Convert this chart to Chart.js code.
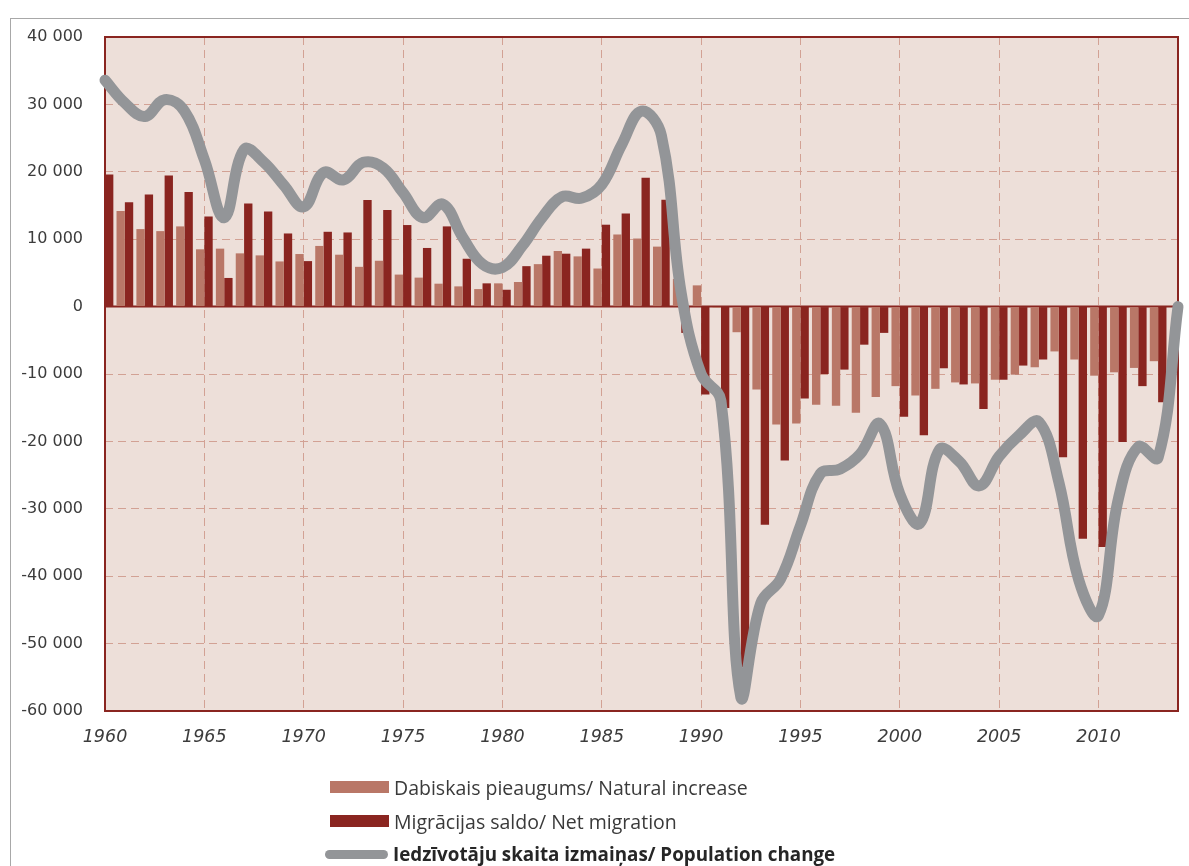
<!DOCTYPE html>
<html>
<head>
<meta charset="utf-8">
<script src="https://cdn.jsdelivr.net/npm/chart.js@4.4.1/dist/chart.umd.min.js"></script>
<style>
  html, body { margin: 0; padding: 0; background: #ffffff; }
  #wrap { position: relative; width: 1189px; height: 866px; overflow: hidden; background: #ffffff; }
  #chart { position: absolute; left: 0; top: 0; }
  .frame-l { position: absolute; left: 10px; top: 18px; width: 1px; height: 848px; background: #a8a8a8; }
  .frame-t { position: absolute; left: 10px; top: 18px; width: 1179px; height: 1px; background: #a8a8a8; }
  .lg-row { position: absolute; left: 0; height: 30px; display: flex; align-items: center; white-space: nowrap;
            font-family: 'Open Sans', 'Liberation Sans', sans-serif; font-size: 19.5px; color: #3a3a3a; }
  .lg-box { display: inline-block; width: 59px; height: 12px; margin-right: 5px; }
  .lg-line { display: inline-block; width: 63px; height: 9px; border-radius: 5px; background: #939598; margin-right: 5px; }
</style>
</head>
<body>
<div id="wrap">
  <canvas id="chart" width="1189" height="866"></canvas>
  <div class="frame-l"></div>
  <div class="frame-t"></div>
  <div id="legend"></div>
</div>
<script>
// ---- Data ----
const years = ['1960','1961','1962','1963','1964','1965','1966','1967','1968','1969',
               '1970','1971','1972','1973','1974','1975','1976','1977','1978','1979',
               '1980','1981','1982','1983','1984','1985','1986','1987','1988','1989',
               '1990','1991','1992','1993','1994','1995','1996','1997','1998','1999',
               '2000','2001','2002','2003','2004','2005','2006','2007','2008','2009',
               '2010','2011','2012','2013','2014'];

const naturalIncrease = [14000, 14200, 11500, 11200, 11900, 8500, 8600, 7900, 7600, 6700,
                         7800, 9000, 7700, 5900, 6800, 4750, 4300, 3400, 3000, 2600,
                         3450, 3650, 6300, 8250, 7450, 5650, 10700, 10100, 8900, 4100,
                         3150, -200, -3800, -12300, -17500, -17350, -14550, -14700, -15750, -13400,
                         -11800, -13200, -12200, -11250, -11400, -10850, -10100, -9000, -6650, -7850,
                         -10250, -9750, -9100, -8100, null];

const netMigration = [19600, 15500, 16650, 19450, 17000, 13350, 4250, 15300, 14100, 10850,
                      6750, 11100, 11000, 15800, 14350, 12100, 8700, 11900, 7100, 3450,
                      2500, 6000, 7550, 7850, 8600, 12150, 13800, 19100, 15850, -3900,
                      -13050, -15050, -53500, -32350, -22850, -13650, -10000, -9350, -5650, -3900,
                      -16350, -19100, -9150, -11550, -15200, -10850, -8750, -7850, -22350, -34450,
                      -35650, -20100, -11800, -14200, null];

const populationChange = [33600, 30200, 28200, 30700, 29000, 21800, 13200, 23300, 21400, 18000,
                          14800, 19900, 18800, 21400, 20600, 16900, 13200, 15200, 10300, 6300,
                          5800, 9000, 13200, 16300, 16100, 18100, 24000, 29000, 25400, 2000,
                          -10000, -14000, -58000, -44000, -40400, -32500, -24800, -24100, -21900, -17400,
                          -27800, -32200, -21200, -23000, -26600, -22200, -19100, -17100, -26000, -40500,
                          -45800, -28500, -20800, -22400, 0];

const yTicks = [40000, 30000, 20000, 10000, 0, -10000, -20000, -30000, -40000, -50000, -60000];

const seriesNames = ['Dabiskais pieaugums/ Natural increase',
                     'Migrācijas saldo/ Net migration',
                     'Iedzīvotāju skaita izmaiņas/ Population change'];

// ---- Styles ----
const C_LIGHT = '#b97767';
const C_DARK = '#8a2520';
const C_LINE = '#939598';
const C_PLOT = '#eddfd9';
const C_GRID = '#d2a194';
const C_TEXT = '#3c3c3c';

function fmt(v) {
  const s = String(Math.abs(v)).replace(/\B(?=(\d{3})+(?!\d))/g, ' ');
  return (v < 0 ? '-' : '') + s;
}

const plotDecor = {
  id: 'plotDecor',
  beforeDraw(chart) {
    const { ctx, chartArea: a } = chart;
    ctx.save();
    ctx.fillStyle = C_PLOT;
    ctx.fillRect(a.left, a.top, a.right - a.left, a.bottom - a.top);
    ctx.restore();
  },
  beforeDatasetsDraw(chart) {
    const { ctx, chartArea: a, scales } = chart;
    const y0 = scales.y.getPixelForValue(0);
    ctx.save();
    ctx.strokeStyle = C_DARK;
    ctx.lineWidth = 2;
    ctx.beginPath();
    ctx.moveTo(a.left, y0);
    ctx.lineTo(a.right, y0);
    ctx.stroke();
    ctx.strokeRect(a.left, a.top, a.right - a.left, a.bottom - a.top);
    ctx.restore();
  }
};

new Chart(document.getElementById('chart'), {
  type: 'bar',
  data: {
    labels: years,
    datasets: [
      { type: 'line', label: seriesNames[2], data: populationChange, borderColor: C_LINE,
        backgroundColor: C_LINE, borderWidth: 11, tension: 0.4, pointRadius: 0, pointHoverRadius: 0,
        fill: false, order: 0, clip: 12, borderCapStyle: 'round', borderJoinStyle: 'round' },
      { label: seriesNames[0], data: naturalIncrease, backgroundColor: C_LIGHT, borderWidth: 0,
        order: 1, categoryPercentage: 0.84, barPercentage: 1.0 },
      { label: seriesNames[1], data: netMigration, backgroundColor: C_DARK, borderWidth: 0,
        order: 1, categoryPercentage: 0.84, barPercentage: 1.0 }
    ]
  },
  options: {
    responsive: false,
    animation: false,
    devicePixelRatio: 1,
    layout: { padding: { left: 0, right: 11, top: 37, bottom: 105 } },
    plugins: { legend: { display: false }, tooltip: { enabled: false } },
    scales: {
      x: {
        type: 'category',
        offset: false,
        grid: {
          offset: false,
          drawTicks: false,
          lineWidth: 1,
          color: (ctx) => (ctx.index > 0 && Number(years[ctx.index]) % 5 === 0) ? C_GRID : 'rgba(0,0,0,0)'
        },
        border: { display: false, dash: [8, 5] },
        ticks: {
          autoSkip: false, maxRotation: 0, minRotation: 0, padding: 16,
          font: { family: 'DejaVu Sans', size: 17.5, style: 'italic' }, color: C_TEXT,
          callback: (v, i) => (Number(years[i]) % 5 === 0 && Number(years[i]) <= 2010) ? years[i] : ''
        },
        afterFit: (s) => { s.height = 50; s.paddingLeft = 0; s.paddingRight = 0; }
      },
      y: {
        min: yTicks[yTicks.length - 1],
        max: yTicks[0],
        afterBuildTicks: (s) => { s.ticks = yTicks.map(v => ({ value: v })); },
        grid: {
          drawTicks: false,
          lineWidth: 1,
          color: (ctx) => (ctx.tick && (ctx.tick.value === 0 || ctx.tick.value === yTicks[0] || ctx.tick.value === yTicks[yTicks.length - 1])) ? 'rgba(0,0,0,0)' : C_GRID
        },
        border: { display: false, dash: [8, 5] },
        ticks: {
          padding: 22,
          font: { family: 'DejaVu Sans', size: 16 }, color: C_TEXT,
          callback: (v) => fmt(v)
        },
        afterFit: (s) => { s.width = 105; s.paddingTop = 0; s.paddingBottom = 0; }
      }
    }
  },
  plugins: [plotDecor]
});

// ---- HTML legend (vertical, as in the reference) ----
const lg = document.getElementById('legend');
const rows = [
  { top: 772, kind: 'box', color: C_LIGHT, text: seriesNames[0], bold: false, left: 330 },
  { top: 806, kind: 'box', color: C_DARK, text: seriesNames[1], bold: false, left: 330 },
  { top: 839, kind: 'line', color: C_LINE, text: seriesNames[2], bold: true, left: 325 }
];
rows.forEach(r => {
  const row = document.createElement('div');
  row.className = 'lg-row';
  row.style.top = r.top + 'px';
  row.style.left = r.left + 'px';
  const sw = document.createElement('span');
  sw.className = r.kind === 'box' ? 'lg-box' : 'lg-line';
  sw.style.background = r.color;
  const tx = document.createElement('span');
  tx.textContent = r.text;
  if (r.bold) { tx.style.fontWeight = '700'; tx.style.color = '#262626'; tx.style.fontSize = '18.8px'; }
  row.appendChild(sw);
  row.appendChild(tx);
  lg.appendChild(row);
});
</script>
</body>
</html>
